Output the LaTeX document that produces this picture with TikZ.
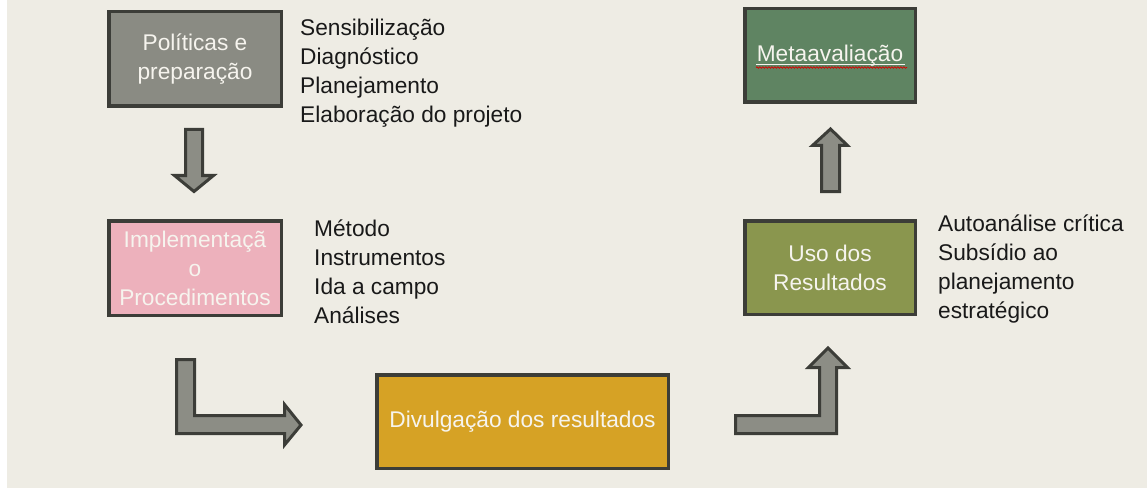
\documentclass[tikz,border=0pt]{standalone}
\usepackage{fontspec}
\setmainfont{Liberation Sans}
\usetikzlibrary{decorations.pathmorphing}
\definecolor{bg}{RGB}{238,236,228}
\definecolor{bdr}{RGB}{60,61,56}
\definecolor{arrfill}{RGB}{140,141,133}
\definecolor{grayfill}{RGB}{138,139,131}
\definecolor{pinkfill}{RGB}{237,177,188}
\definecolor{greenfill}{RGB}{95,132,98}
\definecolor{olivefill}{RGB}{138,150,78}
\definecolor{goldfill}{RGB}{214,162,37}
\definecolor{boxtxt}{RGB}{246,244,238}
\definecolor{txt}{RGB}{25,25,25}
\newcommand{\fsz}{\fontsize{22.7}{29}\selectfont}
\begin{document}
\begin{tikzpicture}[x=1pt,y=-1pt,
  boxst/.style={draw=bdr, line width=3.5pt, inner sep=0pt, align=center, text=boxtxt, font=\fsz},
  sidetxt/.style={anchor=west, inner sep=0pt, align=left, text=txt, font=\fsz},
  arrst/.style={draw=bdr, fill=arrfill, line width=3pt, line join=miter}]
\useasboundingbox (0,0) rectangle (1147,489);
\fill[white] (0,0) rectangle (1147,489);
\fill[bg] (7,0) rectangle (1147,488);

% boxes
\node[boxst, fill=grayfill, minimum width=172.5pt, minimum height=94.5pt] (pol) at (195,59) {Políticas e\\preparação};
\node[boxst, fill=pinkfill, minimum width=172.5pt, minimum height=94.5pt] (imp) at (195,268) {Implementaçã\\o\\Procedimentos};
\node[boxst, fill=goldfill, minimum width=291.5pt, minimum height=93.5pt] (div) at (522.5,421.5) {Divulgação dos resultados};
\node[boxst, fill=olivefill, minimum width=170.5pt, minimum height=93.5pt] (uso) at (830,267.5) {Uso dos\\Resultados};
\node[boxst, fill=greenfill, minimum width=170.5pt, minimum height=93.5pt] (meta) at (830,55.5) {Metaavaliação};

% underline + spell-check wave under Metaavaliação
\coordinate (ul1) at (756,64.5);
\coordinate (ul2) at (905,64.5);
\draw[boxtxt, line width=1.3pt] (ul1) -- (ul2);
\coordinate (wv1) at (756,67.5);
\coordinate (wv2) at (907,67.5);
\draw[red!85!black, line width=0.7pt, decorate, decoration={snake, segment length=3pt, amplitude=0.8pt}] (wv1) -- (wv2);

% side texts
\node[sidetxt] (t1) at (300,73.5) {Sensibilização\\Diagnóstico\\Planejamento\\Elaboração do projeto};
\node[sidetxt] (t2) at (314,272) {Método\\Instrumentos\\Ida a campo\\Análises};
\node[sidetxt] (t3) at (938,268.5) {Autoanálise crítica\\Subsídio ao\\planejamento\\estratégico};

% block arrows
\draw[arrst] (185.5,129.5) -- (202.5,129.5) -- (202.5,175.5) -- (213.5,175.5) -- (194,191.5) -- (174.5,175.5) -- (185.5,175.5) -- cycle;
\draw[arrst] (176.5,359.5) -- (194.5,359.5) -- (194.5,415.5) -- (284.5,415.5) -- (284.5,404.5) -- (301,425) -- (284.5,445) -- (284.5,433.5) -- (176.5,433.5) -- cycle;
\draw[arrst] (735.5,415.5) -- (819.5,415.5) -- (819.5,367.5) -- (808.5,367.5) -- (828,348) -- (847.5,367.5) -- (836.5,367.5) -- (836.5,433.5) -- (735.5,433.5) -- cycle;
\draw[arrst] (821.5,191.5) -- (839.5,191.5) -- (839.5,145.5) -- (847.5,145.5) -- (830.5,129) -- (812.5,145.5) -- (821.5,145.5) -- cycle;
\end{tikzpicture}
\end{document}
